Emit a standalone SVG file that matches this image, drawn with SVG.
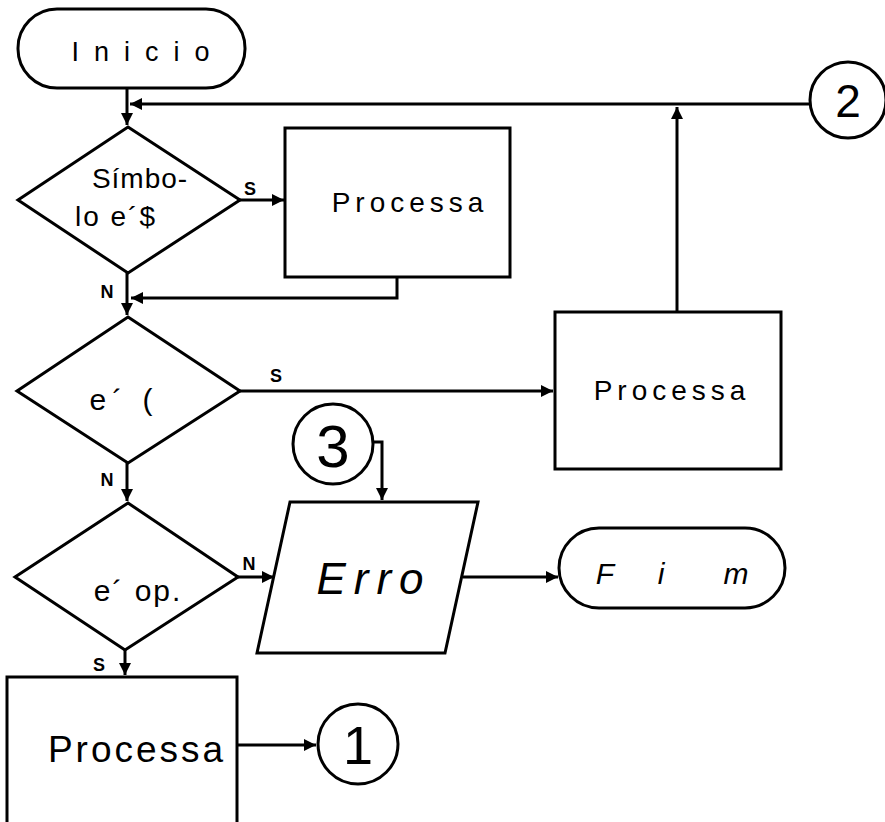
<svg xmlns="http://www.w3.org/2000/svg" width="885" height="822" viewBox="0 0 885 822">
<style>
.s{fill:#fff;stroke:#000;stroke-width:3}
.c{fill:none;stroke:#000;stroke-width:3}
.t{font-family:"Liberation Sans",Arial,sans-serif;font-size:28px;fill:#000;text-anchor:middle}
.l{font-family:"Liberation Sans",Arial,sans-serif;font-size:18px;font-weight:bold;fill:#000;text-anchor:middle}
</style>
<defs>
<marker id="a" viewBox="0 0 10 10" refX="10" refY="5" markerWidth="5" markerHeight="4" orient="auto" markerUnits="strokeWidth"><path d="M0,0L10,5L0,10z" fill="#000"/></marker>
</defs>
<rect width="885" height="822" fill="#fff"/>
<g id="connectors">
<path class="c" d="M127,88V125" marker-end="url(#a)"/>
<path class="c" d="M811,104H130" marker-end="url(#a)"/>
<path class="c" d="M240,200H284" marker-end="url(#a)"/>
<path class="c" d="M397,277V298H131" marker-end="url(#a)"/>
<path class="c" d="M127,273V315" marker-end="url(#a)"/>
<path class="c" d="M240,391H553" marker-end="url(#a)"/>
<path class="c" d="M677,312V107" marker-end="url(#a)"/>
<path class="c" d="M127,463V501" marker-end="url(#a)"/>
<path class="c" d="M238,577H274" marker-end="url(#a)"/>
<path class="c" d="M372,442H382V500" marker-end="url(#a)"/>
<path class="c" d="M463,577H558" marker-end="url(#a)"/>
<path class="c" d="M125,650V675" marker-end="url(#a)"/>
<path class="c" d="M237,745H316" marker-end="url(#a)"/>
<text class="l" x="250" y="195">S</text>
<text class="l" x="107" y="298">N</text>
<text class="l" x="276" y="382">S</text>
<text class="l" x="107" y="486">N</text>
<text class="l" x="249" y="570">N</text>
<text class="l" x="99" y="671">S</text>
</g>
<g id="inicio"><rect class="s" x="18" y="9" width="227" height="79" rx="39"/><text class="t" x="148" y="61" style="font-size:27px;letter-spacing:15px">Inicio</text></g>
<g id="d1"><path class="s" d="M128,127L240,200L128,273L18,200Z"/><text class="t" x="140" y="188" style="letter-spacing:1px">Símbo-</text><text class="t" x="116" y="226" style="letter-spacing:2px">lo e´$</text></g>
<g id="p1"><rect class="s" x="285" y="128" width="225" height="149"/><text class="t" x="410" y="212" style="letter-spacing:5px">Processa</text></g>
<g id="d2"><path class="s" d="M128,317L240,391L128,463L17,391Z"/><text class="t" x="124" y="410" style="font-size:30px;letter-spacing:6px">e´ (</text></g>
<g id="p2"><rect class="s" x="555" y="312" width="226" height="157"/><text class="t" x="672" y="400" style="letter-spacing:5px">Processa</text></g>
<g id="c2"><circle class="s" cx="848" cy="100" r="38"/><text class="t" x="848" y="117" style="font-size:46px">2</text></g>
<g id="c3"><circle class="s" cx="333" cy="444" r="40"/><text class="t" x="333" y="467" style="font-size:60px">3</text></g>
<g id="d3"><path class="s" d="M128,503L238,577L125,650L15,577Z"/><text class="t" x="138" y="601" style="font-size:30px;letter-spacing:2px">e´ op.</text></g>
<g id="erro"><path class="s" d="M290,502H478L445,653H257Z"/><text class="t" x="374" y="594" style="font-size:44px;font-style:italic;letter-spacing:8px">Erro</text></g>
<g id="fim"><rect class="s" x="559" y="528" width="226" height="80" rx="40"/><text class="t" x="605 661 736" y="584" style="font-size:30px;font-style:italic">Fim</text></g>
<g id="p3"><rect class="s" x="7" y="677" width="230" height="160"/><text class="t" x="137" y="762" style="font-size:37px;letter-spacing:3px">Processa</text></g>
<g id="c1"><circle class="s" cx="358" cy="744" r="40"/><text class="t" x="358" y="764" style="font-size:54px">1</text></g>
</svg>
